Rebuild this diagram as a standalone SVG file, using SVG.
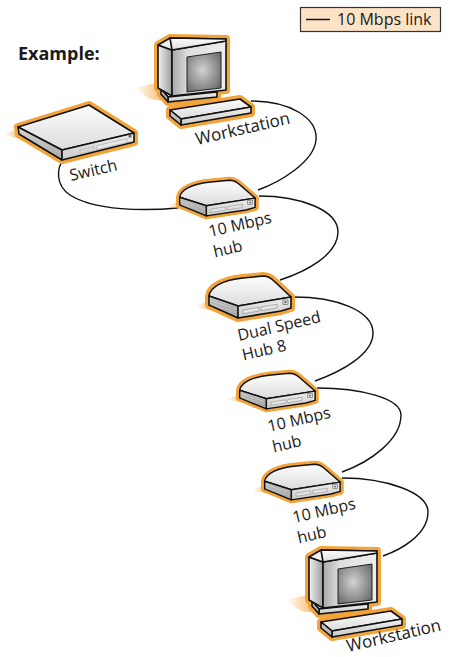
<svg xmlns="http://www.w3.org/2000/svg" width="455" height="657" viewBox="0 0 455 657">
<style>
.lbl{font-family:"Open Sans","Noto Sans","DejaVu Sans",sans-serif;font-size:16px;fill:#1a1a1a}
.ws{font-size:17px}
.link{fill:none;stroke:#111;stroke-width:1.4}
.halo{fill:#f2a33a;stroke:#f2a33a;stroke-width:8;stroke-linejoin:round}
.ol{stroke:#111;stroke-width:1.6;stroke-linejoin:round}
.thin{fill:none;stroke:#9a9a9a;stroke-width:0.6}
</style>
<defs>
<linearGradient id="topG" x1="0" y1="0" x2="0" y2="1"><stop offset="0" stop-color="#fdfdfd"/><stop offset="1" stop-color="#dcdcdc"/></linearGradient>
<linearGradient id="sideG" x1="0" y1="0" x2="0" y2="1"><stop offset="0" stop-color="#d4d4d4"/><stop offset="1" stop-color="#a9a9a9"/></linearGradient>
<linearGradient id="frontG" x1="0" y1="0" x2="0" y2="1"><stop offset="0" stop-color="#f0f0f0"/><stop offset="1" stop-color="#c9c9c9"/></linearGradient>
<linearGradient id="monSide" x1="0" y1="0" x2="1" y2="0"><stop offset="0" stop-color="#f2f2f2"/><stop offset="1" stop-color="#9c9c9c"/></linearGradient>
<linearGradient id="bezel" x1="0" y1="0" x2="1" y2="0"><stop offset="0" stop-color="#a8a8a8"/><stop offset="0.3" stop-color="#dedede"/><stop offset="1" stop-color="#eeeeee"/></linearGradient>
<radialGradient id="screenG" cx="0.45" cy="0.45" r="0.65"><stop offset="0" stop-color="#d2d2d2"/><stop offset="1" stop-color="#6c6c6c"/></radialGradient>
<linearGradient id="shadowG" x1="0" y1="0" x2="1" y2="0"><stop offset="0" stop-color="#f7b866" stop-opacity="0"/><stop offset="1" stop-color="#f5a94a" stop-opacity="0.9"/></linearGradient>

<g id="hub">
  <path d="M0,36 L16,28 L20,40 Z" fill="url(#shadowG)"/>
  <path class="halo" d="M14,25 C15,16 28,9 48,7 L68,5 C73,5 76,7 79,10 L96,26 L96,37 L86,40 L43,47 L14,34 Z"/>
  <path class="ol" fill="url(#topG)" d="M14,25 C15,16 28,9 48,7 L68,5 C73,5 76,7 79,10 L96,26 L43,35 Z"/>
  <path class="ol" fill="url(#sideG)" d="M14,25 L43,35 L43,47 L14,34 Z"/>
  <path class="ol" fill="url(#frontG)" d="M43,35 L96,26 L96,37 L86,40 L43,47 Z"/>
  <path class="thin" d="M16,28 L43,38 M16,31 L43,41 M16,34 L43,44"/>
  <path d="M48,39 L64,36.3 L64,40 L48,42.7 Z M66,36 L82,33.3 L82,37 L66,39.7 Z" fill="#e6e6e6" stroke="#8a8a8a" stroke-width="0.6"/>
  <rect x="88" y="29" width="5" height="4.5" fill="#e0e0e0" stroke="#555" stroke-width="0.6"/>
  <circle cx="90.5" cy="31.2" r="1" fill="#555"/>
</g>

<g id="ws">
  <path d="M134,88 L160,82 L166,101 L150,99 Z" fill="url(#shadowG)"/>
  <path class="halo" d="M158,45 L170,38 L226,39 L226,90 L172,96 L158,88 Z"/>
  <path class="halo" d="M161,89 L213,85 L217,92 L217,97 L168,102 L161,94 Z"/>
  <path class="halo" d="M170,110 L240,99 L251,107 L251,113 L181,125 L170,116 Z"/>
  <path class="ol" fill="url(#topG)" d="M161,89 L213,85 L217,92 L168,97 Z"/>
  <path class="ol" fill="url(#frontG)" d="M168,97 L217,92 L217,97 L168,102 Z"/>
  <path class="ol" fill="url(#sideG)" d="M161,89 L168,97 L168,102 L161,94 Z"/>
  <path class="ol" fill="url(#monSide)" d="M158,45 L172,50 L172,96 L158,88 Z"/>
  <path class="ol" fill="#f0f0f0" d="M158,45 L170,38 L226,39 L172,50 Z"/>
  <path class="ol" fill="url(#bezel)" d="M172,50 L226,41 L226,90 L172,96 Z"/>
  <path class="ol" fill="url(#topG)" d="M170,38 L226,39 L226,41 L172,50 Z" stroke-width="1"/>
  <path fill="url(#screenG)" stroke="#222" stroke-width="1" d="M187,57 L221,52 L221,88 L187,92 Z"/>
  <path class="ol" fill="url(#topG)" d="M170,110 L240,99 L251,107 L181,119 Z"/>
  <path class="ol" fill="url(#frontG)" d="M181,119 L251,107 L251,113 L181,125 Z"/>
  <path class="ol" fill="url(#sideG)" d="M170,110 L181,119 L181,125 L170,116 Z"/>
</g>
</defs>

<g id="legend">
  <rect x="300.5" y="7.5" width="140" height="24" fill="#fde3c6" stroke="#333" stroke-width="1.2"/>
  <line x1="306" y1="19.5" x2="330" y2="19.5" stroke="#111" stroke-width="1.5"/>
  <text class="lbl" x="337" y="25">10 Mbps link</text>
</g>

<text id="title" x="18" y="60" font-family="'Open Sans','Noto Sans','DejaVu Sans',sans-serif" font-size="18" font-weight="bold" fill="#1a1a1a">Example:</text>

<g id="connectors">
  <path class="link" d="M251,101 C290,101 318,118 316,140 C314,162 280,182 258,190"/>
  <path class="link" d="M63,160 C57,168 55,185 70,195 C95,211 145,211 178,208"/>
  <path class="link" d="M259,196 C300,196 338,210 338,232 C338,255 305,272 280,280"/>
  <path class="link" d="M294,297 C335,297 373,310 373,333 C373,355 340,372 315,381"/>
  <path class="link" d="M317,388 C360,388 401,398 401,415 C401,440 370,462 342,472"/>
  <path class="link" d="M342,478 C385,478 428,492 428,512 C428,535 400,550 383,556"/>
</g>

<g id="node-workstation-top">
  <use href="#ws"/>
  <text class="lbl ws" x="197" y="145" transform="rotate(-13 197 145)">Workstation</text>
</g>

<g id="node-switch">
  <path d="M4,134 L19,128 L22,140 Z" fill="url(#shadowG)"/>
  <path class="halo" d="M18,127 L89,105 L134,133 L134,142 L62,160 L19,134 Z"/>
  <path class="ol" fill="url(#topG)" d="M18,127 L89,105 L134,133 L62,150 Z"/>
  <path class="ol" fill="url(#sideG)" d="M18,127 L62,150 L62,160 L19,134 Z"/>
  <path class="ol" fill="url(#frontG)" d="M62,150 L134,133 L134,142 L62,160 Z"/>
  <path d="M80,150 L94,146.5 L94,150.5 L80,154 Z" fill="#d8d8d8" stroke="#777" stroke-width="0.5" stroke-dasharray="1 1"/>
  <path d="M97,145.5 L127,138.5 L127,142.5 L97,149.5 Z" fill="#e8e8e8" stroke="#999" stroke-width="0.5"/>
  <rect x="128.5" y="134.5" width="3" height="3" fill="#666"/>
  <text class="lbl" x="71" y="181" transform="rotate(-13 71 181)">Switch</text>
</g>

<g id="node-hub1">
  <use href="#hub" transform="translate(166.8,176) scale(0.92,0.85)"/>
  <text class="lbl" x="210" y="237" transform="rotate(-13 210 237)">10 Mbps<tspan x="210" dy="21">hub</tspan></text>
</g>

<g id="node-hub2">
  <use href="#hub" transform="translate(195,271)"/>
  <text class="lbl" x="239" y="341" transform="rotate(-13 239 341)">Dual Speed<tspan x="239" dy="20">Hub 8</tspan></text>
</g>

<g id="node-hub3">
  <use href="#hub" transform="translate(226.8,369) scale(0.92,0.85)"/>
  <text class="lbl" x="269" y="432" transform="rotate(-13 269 432)">10 Mbps<tspan x="269" dy="21">hub</tspan></text>
</g>

<g id="node-hub4">
  <use href="#hub" transform="translate(251.8,460) scale(0.92,0.85)"/>
  <text class="lbl" x="294" y="523" transform="rotate(-13 294 523)">10 Mbps<tspan x="294" dy="21">hub</tspan></text>
</g>

<g id="node-workstation-bottom">
  <use href="#ws" transform="translate(151,512)"/>
  <text class="lbl ws" x="348" y="652" transform="rotate(-13 348 652)">Workstation</text>
</g>
</svg>
